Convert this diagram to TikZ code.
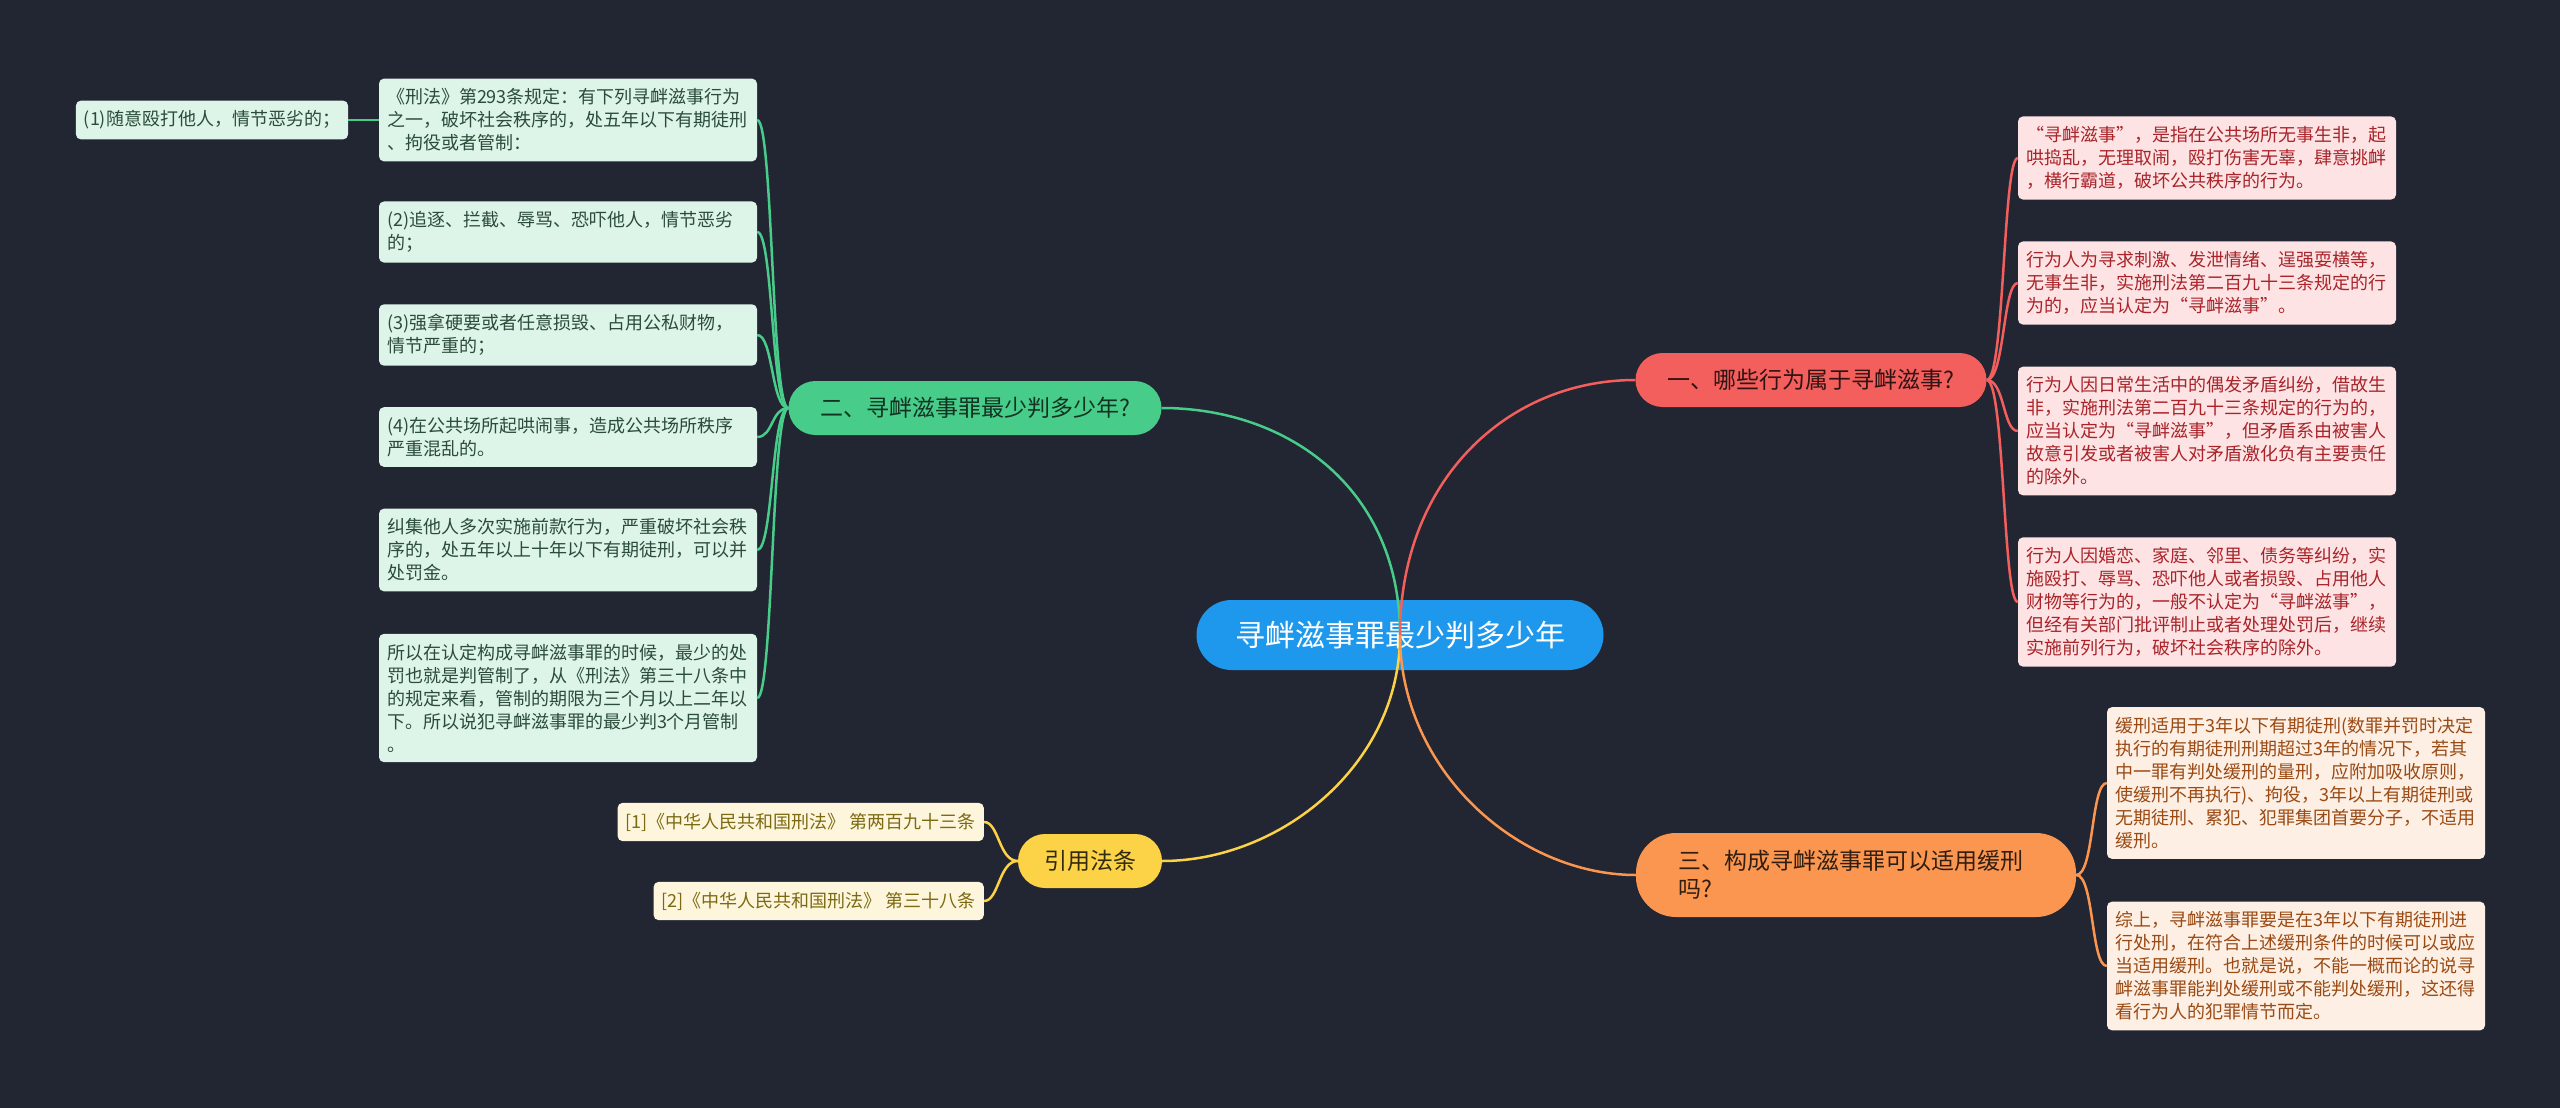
\documentclass[tikz,border=0pt]{standalone}
\usepackage{fontspec}
\setmainfont{Noto Sans CJK SC}

\definecolor{bgcol}{HTML}{222532}
\definecolor{rootc}{HTML}{1E98EC}
\definecolor{redc}{HTML}{F25F5C}
\definecolor{greenc}{HTML}{47CC8A}
\definecolor{orangec}{HTML}{FB9650}
\definecolor{yellowc}{HTML}{FCD347}
\definecolor{redfill}{HTML}{FDE3E3}
\definecolor{redtext}{HTML}{A8242A}
\definecolor{greenfill}{HTML}{DDF4E8}
\definecolor{greentext}{HTML}{2B4C3A}
\definecolor{orangefill}{HTML}{FDEFE3}
\definecolor{orangetext}{HTML}{9A4A14}
\definecolor{yellowfill}{HTML}{FDF6DC}
\definecolor{yellowtext}{HTML}{7C6A12}

\tikzset{
  rootnode/.style={fill=rootc, text=white, rounded corners=35pt, minimum width=407pt,
    minimum height=70pt, font=\fontsize{30}{36}\selectfont},
  topic/.style={rounded corners=27pt, minimum height=54pt, inner xsep=12pt,
    font=\fontsize{23}{28}\selectfont},
  leaf/.style={rounded corners=5pt, inner xsep=8pt, inner ysep=10pt, align=left,
    font=\fontsize{18}{23}\selectfont},
  gleaf/.style={leaf, fill=greenfill, text=greentext, text width=362pt},
  rleaf/.style={leaf, fill=redfill, text=redtext, text width=362pt},
  oleaf/.style={leaf, fill=orangefill, text=orangetext, text width=362pt},
  yleaf/.style={leaf, fill=yellowfill, text=yellowtext},
  link/.style={line width=2.5pt}
}

\begin{document}
\begin{tikzpicture}[x=1pt,y=-1pt]
% background
\fill[bgcol] (0,0) rectangle (2560,1108);

% centre topic
\node[rootnode] (root) at (1400,635) {寻衅滋事罪最少判多少年};

% main topics
\node[topic, fill=redc, text=redc!20!black, minimum width=351pt] (t1) at (1811,380) {一、哪些行为属于寻衅滋事?};
\node[topic, fill=greenc, text=greenc!25!black, minimum width=373pt] (t2) at (975,408) {二、寻衅滋事罪最少判多少年?};
\node[topic, fill=orangec, text=orangec!20!black, rounded corners=40pt, minimum height=84pt,
  text width=356pt, inner xsep=42pt, align=left] (t3) at (1856,875) {三、构成寻衅滋事罪可以适用缓刑\\吗?};
\node[topic, fill=yellowc, text=yellowc!20!black, minimum width=144pt] (t4) at (1090,861) {引用法条};

% red leaves
\node[rleaf] (r1) at (2207,158) {“寻衅滋事”，是指在公共场所无事生非，起\\哄捣乱，无理取闹，殴打伤害无辜，肆意挑衅\\，横行霸道，破坏公共秩序的行为。};
\node[rleaf] (r2) at (2207,283) {行为人为寻求刺激、发泄情绪、逞强耍横等，\\无事生非，实施刑法第二百九十三条规定的行\\为的，应当认定为“寻衅滋事”。};
\node[rleaf] (r3) at (2207,431) {行为人因日常生活中的偶发矛盾纠纷，借故生\\非，实施刑法第二百九十三条规定的行为的，\\应当认定为“寻衅滋事”，但矛盾系由被害人\\故意引发或者被害人对矛盾激化负有主要责任\\的除外。};
\node[rleaf] (r4) at (2207,602) {行为人因婚恋、家庭、邻里、债务等纠纷，实\\施殴打、辱骂、恐吓他人或者损毁、占用他人\\财物等行为的，一般不认定为“寻衅滋事”，\\但经有关部门批评制止或者处理处罚后，继续\\实施前列行为，破坏社会秩序的除外。};

% green leaves
\node[gleaf] (g0) at (568,120) {《刑法》第293条规定：有下列寻衅滋事行为\\之一，破坏社会秩序的，处五年以下有期徒刑\\、拘役或者管制：};
\node[leaf, fill=greenfill, text=greentext] (g1) at (212,120) {(1)随意殴打他人，情节恶劣的；};
\node[gleaf] (g2) at (568,232) {(2)追逐、拦截、辱骂、恐吓他人，情节恶劣\\的；};
\node[gleaf] (g3) at (568,335) {(3)强拿硬要或者任意损毁、占用公私财物，\\情节严重的；};
\node[gleaf] (g4) at (568,437) {(4)在公共场所起哄闹事，造成公共场所秩序\\严重混乱的。};
\node[gleaf] (g5) at (568,550) {纠集他人多次实施前款行为，严重破坏社会秩\\序的，处五年以上十年以下有期徒刑，可以并\\处罚金。};
\node[gleaf] (g6) at (568,698) {所以在认定构成寻衅滋事罪的时候，最少的处\\罚也就是判管制了，从《刑法》第三十八条中\\的规定来看，管制的期限为三个月以上二年以\\下。所以说犯寻衅滋事罪的最少判3个月管制\\。};

% orange leaves
\node[oleaf] (o1) at (2296,783) {缓刑适用于3年以下有期徒刑(数罪并罚时决定\\执行的有期徒刑刑期超过3年的情况下，若其\\中一罪有判处缓刑的量刑，应附加吸收原则，\\使缓刑不再执行)、拘役，3年以上有期徒刑或\\无期徒刑、累犯、犯罪集团首要分子，不适用\\缓刑。};
\node[oleaf] (o2) at (2296,966) {综上，寻衅滋事罪要是在3年以下有期徒刑进\\行处刑，在符合上述缓刑条件的时候可以或应\\当适用缓刑。也就是说，不能一概而论的说寻\\衅滋事罪能判处缓刑或不能判处缓刑，这还得\\看行为人的犯罪情节而定。};

% yellow leaves
\node[yleaf, anchor=east] (y1) at (984,822) {[1]《中华人民共和国刑法》 第两百九十三条};
\node[yleaf, anchor=east] (y2) at (984,901) {[2]《中华人民共和国刑法》 第三十八条};

% centre to topics
\draw[link, greenc] (root.center) .. controls +(0,-145) and +(128,0) .. (t2.east);
\draw[link, redc] (root.center) .. controls +(0,-155) and +(-128,0) .. (t1.west);
\draw[link, yellowc] (root.center) .. controls +(0,130) and +(118,0) .. (t4.east);
\draw[link, orangec] (root.center) .. controls +(0,135) and +(-118,0) .. (t3.west);

% topics to leaves
\foreach \n in {r1,r2,r3,r4}
  \draw[link, redc] (t1.east) .. controls +(18,0) and +(-15,0) .. (\n.west);
\foreach \n in {g0,g2,g3,g4,g5,g6}
  \draw[link, greenc] (t2.west) .. controls +(-17,0) and +(16,0) .. (\n.east);
\draw[link, greenc] (g0.west) -- (g1.east);
\foreach \n in {o1,o2}
  \draw[link, orangec] (t3.east) .. controls +(18,0) and +(-16,0) .. (\n.west);
\foreach \n in {y1,y2}
  \draw[link, yellowc] (t4.west) .. controls +(-19,0) and +(15,0) .. (\n.east);
\end{tikzpicture}
\end{document}
